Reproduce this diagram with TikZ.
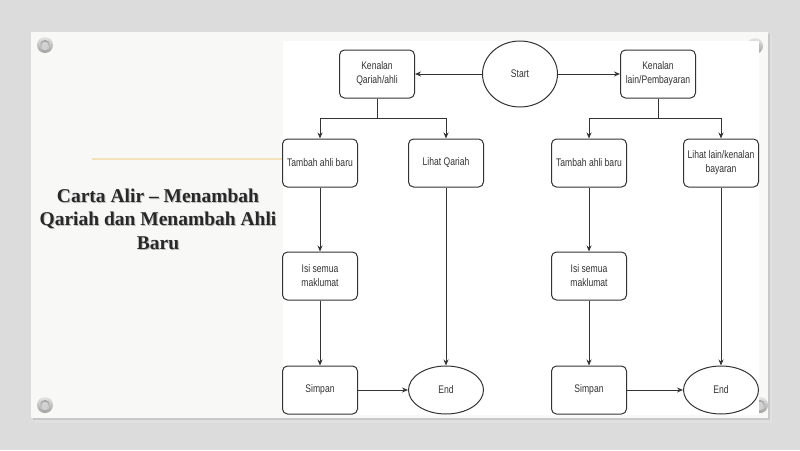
\documentclass[tikz,border=0pt]{standalone}
\usepackage{fontspec}
\setmainfont{Liberation Serif}
\newfontfamily\flowfont[FakeStretch=0.78]{Liberation Sans}
\usetikzlibrary{positioning, shapes.geometric, arrows.meta}
\definecolor{deskGrey}{RGB}{220,220,220}
\definecolor{paperWhite}{RGB}{248,248,247}
\definecolor{titleInk}{RGB}{40,40,40}
\definecolor{goldLine}{RGB}{241,226,184}
\definecolor{flowInk}{RGB}{51,51,51}

\begin{document}
\begin{tikzpicture}[
    x=1pt, y=-1pt,
    node distance=64pt,
    proc/.style={rectangle, draw=flowInk, line width=1pt, fill=white,
                 rounded corners=5pt, minimum width=75pt, minimum height=48pt,
                 align=center, text=flowInk, inner sep=2pt,
                 font=\flowfont\fontsize{11}{14}\selectfont},
    term/.style={ellipse, draw=flowInk, line width=1pt, fill=white,
                 minimum width=75pt, minimum height=48pt, inner sep=1pt,
                 text=flowInk, font=\flowfont\fontsize{11}{14}\selectfont},
    arrow/.style={draw=flowInk, line width=1pt, -{Stealth[length=6pt, width=5pt]}},
    pin/.style={top color=gray!20, bottom color=gray!75}
  ]
    \useasboundingbox (0,0) rectangle (800,450);
    \fill[deskGrey] (0,0) rectangle (800,450);
    % slide with its shadow
    \fill[black!12] (34,35) rectangle (772,423);
    \fill[black!22] (33,34) rectangle (770,420);
    \fill[paperWhite] (31,32) rectangle (768,418);
    % pins
    \foreach \px/\py in {45/45, 45/405, 755/46, 760/405} {
      \shade[pin] (\px,\py) circle (8);
      \shade[top color=gray!75, bottom color=gray!25] (\px,\py) circle (5);
      \fill[gray!35] (\px,\py) circle (3.3);
    }
    % flowchart image area
    \fill[white] (283,41) rectangle (759,415);
    \draw[goldLine, line width=1.5pt] (92,159) -- (283,159);

    % title
    \node[align=center, text=black!25, font=\bfseries\fontsize{19.5}{23.5}\selectfont]
      at (159,220) {Carta Alir – Menambah\\Qariah dan Menambah Ahli\\Baru};
    \node[align=center, text=titleInk, font=\bfseries\fontsize{19.5}{23.5}\selectfont]
      (TITLE) at (158,219) {Carta Alir – Menambah\\Qariah dan Menambah Ahli\\Baru};

    % top row
    \node[term, minimum height=66pt] (START) at (520,74) {Start};
    \node[proc] (KQ) at (377,74) {Kenalan\\Qariah/ahli};
    \node[proc] (KL) at (658,74) {Kenalan\\lain/Pembayaran};

    % left branch
    \node[proc] (TAB1) at (320,163) {Tambah ahli baru};
    \node[proc] (LQ) at (446,163) {Lihat Qariah};
    \node[proc, below=of TAB1] (ISI1) {Isi semua\\maklumat};
    \node[proc, below=65pt of ISI1] (SIM1) {Simpan};
    \node[term] (END1) at (LQ |- SIM1) {End};

    % right branch
    \node[proc] (TAB2) at (589,163) {Tambah ahli baru};
    \node[proc] (LL) at (721,163) {Lihat lain/kenalan\\bayaran};
    \node[proc, below=of TAB2] (ISI2) {Isi semua\\maklumat};
    \node[proc, below=65pt of ISI2] (SIM2) {Simpan};
    \node[term] (END2) at (LL |- SIM2) {End};

    % connectors
    \draw[arrow] (START) -- (KQ);
    \draw[arrow] (START) -- (KL);
    \draw[arrow] (KQ.south) -- ++(0,20) -| (TAB1);
    \draw[arrow] (KQ.south) -- ++(0,20) -| (LQ);
    \draw[arrow] (KL.south) -- ++(0,20) -| (TAB2);
    \draw[arrow] (KL.south) -- ++(0,20) -| (LL);
    \draw[arrow] (TAB1) -- (ISI1);
    \draw[arrow] (ISI1) -- (SIM1);
    \draw[arrow] (SIM1) -- (END1);
    \draw[arrow] (LQ) -- (END1);
    \draw[arrow] (TAB2) -- (ISI2);
    \draw[arrow] (ISI2) -- (SIM2);
    \draw[arrow] (SIM2) -- (END2);
    \draw[arrow] (LL) -- (END2);
\end{tikzpicture}
\end{document}
